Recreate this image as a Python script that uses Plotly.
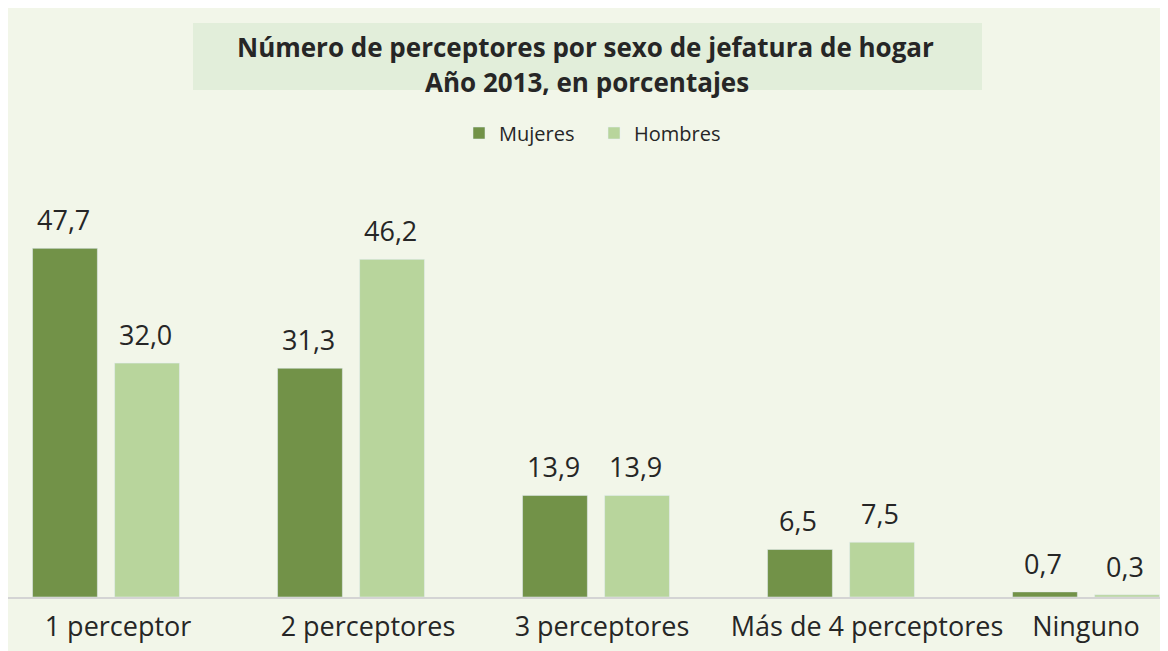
import plotly.graph_objects as go

categorias = ['1 perceptor', '2 perceptores', '3 perceptores', 'Más de 4 perceptores', 'Ninguno']
mujeres = [47.7, 31.3, 13.9, 6.5, 0.7]
hombres = [32.0, 46.2, 13.9, 7.5, 0.3]
# the category labels in the original sit a little right of the bar groups (px)
desplazamiento_etiquetas = [12, 17, 6, 26, 0]

color_mujeres = '#729248'
color_hombres = '#b8d59c'
fondo = '#f2f6e9'
caja_titulo = '#e2eeda'
texto = '#262626'

# the page has an 8px body margin, figure starts at screen (8, 8)
OFF = 8
W, H = 1154, 643
L, R, T, B = 0, 0, 187, 54
plot_h = H - T - B
plot_w = W - L - R
paso = 245.0  # px per category

def py(y_screen):
    return (H - B + OFF - y_screen) / plot_h

def px(x_screen):
    return (x_screen - OFF - L) / plot_w

fig = go.Figure()
fig.add_trace(go.Bar(x=list(range(5)), y=mujeres, name='Mujeres', marker_color=color_mujeres))
fig.add_trace(go.Bar(x=list(range(5)), y=hombres, name='Hombres', marker_color=color_hombres))

# data labels
annotations = []
for serie, shift in [(mujeres, -41), (hombres, 41)]:
    for i, v in enumerate(serie):
        annotations.append(dict(
            x=i, y=v, xref='x', yref='y', xshift=shift - 2, yshift=8,
            text=f"{v:.1f}".replace('.', ','), showarrow=False,
            xanchor='center', yanchor='bottom',
            font=dict(family='Open Sans', size=27, color=texto)
        ))

annotations.append(dict(
    x=px(585), y=py(47), xref='paper', yref='paper', showarrow=False,
    xanchor='center', yanchor='middle',
    text='<b>Número de perceptores por sexo de jefatura de hogar</b>',
    font=dict(family='Open Sans', size=26, color=texto)
))
annotations.append(dict(
    x=px(587), y=py(82), xref='paper', yref='paper', showarrow=False,
    xanchor='center', yanchor='middle',
    text='<b>Año 2013, en porcentajes</b>',
    font=dict(family='Open Sans', size=26, color=texto)
))

shapes = [
    dict(type='rect', xref='paper', yref='paper', x0=px(193), x1=px(982), y0=py(90), y1=py(23),
         fillcolor=caja_titulo, line_width=0, layer='below'),
]

fig.update_layout(
    width=W, height=H,
    margin=dict(l=L, r=R, t=T, b=B),
    paper_bgcolor=fondo,
    plot_bgcolor=fondo,
    barmode='group',
    bargap=0.33,
    bargroupgap=0.21,
    annotations=annotations,
    shapes=shapes,
    showlegend=True,
    legend=dict(orientation='h', x=px(459), y=py(133), xanchor='left', yanchor='middle',
                entrywidth=90, traceorder='normal',
                font=dict(family='Open Sans', size=20, color=texto), bgcolor='rgba(0,0,0,0)'),
    xaxis=dict(
        range=[(OFF - 106) / paso, (1162 - 106) / paso],
        tickmode='array',
        tickvals=[i + d / paso for i, d in enumerate(desplazamiento_etiquetas)],
        ticktext=categorias,
        showline=True, linecolor='#d4d4d4', linewidth=2, showgrid=False, zeroline=False,
        ticks='', ticklabelstandoff=5,
        tickfont=dict(family='Open Sans', size=27, color=texto), fixedrange=True
    ),
    yaxis=dict(range=[0, 55], visible=False, showgrid=False, zeroline=False),
)

fig.write_html("out.html")
